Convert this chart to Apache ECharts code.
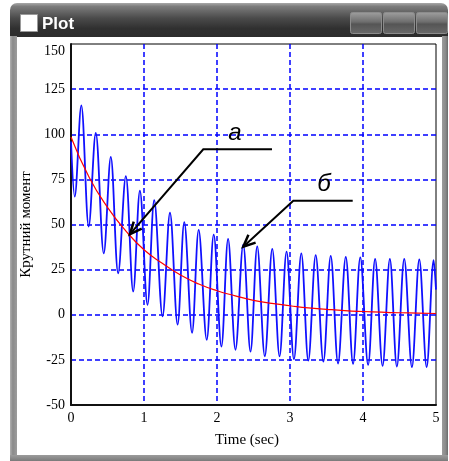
<!DOCTYPE html>
<html>
<head>
<meta charset="utf-8">
<script src="https://cdn.jsdelivr.net/npm/echarts@6/dist/echarts.min.js"></script>
<style>
html,body{margin:0;padding:0;background:#fff;}
#chart{width:449px;height:461px;}
</style>
</head>
<body>
<div id="chart"></div>
<script>
// ---- data ----
const windowTitle = 'Plot';
const xName = 'Time (sec)';
const yName = 'Крутний момент';
const xTicks = [0, 1, 2, 3, 4, 5];
const yTicks = [-50, -25, 0, 25, 50, 75, 100, 125, 150];

// blue oscillating torque: times (s) of start, alternating troughs/peaks, end
const blueT = [0, 0.051, 0.141, 0.243, 0.339, 0.449, 0.545, 0.646, 0.751, 0.852,
  0.944, 1.048, 1.140, 1.254, 1.356, 1.460, 1.552, 1.658, 1.749, 1.859,
  1.955, 2.060, 2.152, 2.253, 2.359, 2.459, 2.551, 2.655, 2.757, 2.857,
  2.953, 3.054, 3.155, 3.251, 3.352, 3.457, 3.558, 3.658, 3.764, 3.864,
  3.963, 4.070, 4.166, 4.268, 4.368, 4.464, 4.565, 4.670, 4.771, 4.872,
  4.968, 5.0];
const blueV = [96, 65.4, 116, 48.8, 100.7, 34, 87.5, 23, 76.8, 12.9,
  68.7, 5.5, 63.5, -0.9, 56.5, -5.5, 51.3, -10, 47, -13.9,
  44.4, -17.6, 42, -19.4, 38.9, -20.4, 37.9, -23, 36.5, -23,
  35, -24.6, 34, -25.4, 33, -26, 32.6, -27, 32, -27.2,
  31.8, -27.8, 30.9, -28.3, 30.9, -28.7, 30.9, -29, 30.6, -29,
  30.2, 13.9];

// red mean torque
const redT = [0, 0.25, 0.5, 0.75, 1.0, 1.25, 1.5, 1.75, 2.0, 2.25, 2.5,
  2.75, 3.0, 3.25, 3.5, 3.75, 4.0, 4.25, 4.5, 4.75, 5.0];
const redV = [98.5, 76, 59.5, 46.5, 36, 28.5, 22, 17, 13.3, 10.5, 8,
  6.3, 5, 3.8, 3, 2.3, 1.8, 1.4, 1.1, 0.9, 0.7];

// annotations (data coordinates)
const annLabels = ['а', 'б'];
const annTip  = [[0.808, 44.7], [2.360, 37.7]];
const annKnee = [[1.812, 91.7], [3.045, 63.2]];
const annEnd  = [[2.753, 91.7], [3.859, 63.2]];
const annText = [[2.247, 100.7], [3.466, 72.4]];

// ---- chart ----
const serif = 'Liberation Serif';
const blueData = blueT.map((t, i) => [t, blueV[i]]);
const redData = redT.map((t, i) => [t, redV[i]]);
const annData = annLabels.map((l, i) => [annTip[i][0], annTip[i][1], i]);

const chart = echarts.init(document.getElementById('chart'), null, {renderer: 'canvas'});

function frameGraphics() {
  const els = [];
  els.push({type: 'rect', shape: {x: 10, y: 3, width: 438, height: 34, r: [7, 7, 0, 0]},
    style: {fill: new echarts.graphic.LinearGradient(0, 0, 0, 1, [
      {offset: 0, color: '#a8a8a8'}, {offset: 0.1, color: '#7c7c7c'},
      {offset: 0.45, color: '#4a4a4a'}, {offset: 0.75, color: '#303030'}, {offset: 1, color: '#2c2c2c'}])},
    z: -10});
  els.push({type: 'rect', shape: {x: 10, y: 36, width: 7, height: 424},
    style: {fill: new echarts.graphic.LinearGradient(0, 0, 1, 0, [
      {offset: 0, color: '#b0b0b0'}, {offset: 0.4, color: '#8a8a8a'}, {offset: 1, color: '#9c9c9c'}])}, z: -10});
  els.push({type: 'rect', shape: {x: 442, y: 36, width: 6, height: 424},
    style: {fill: new echarts.graphic.LinearGradient(0, 0, 1, 0, [
      {offset: 0, color: '#9c9c9c'}, {offset: 0.6, color: '#8a8a8a'}, {offset: 1, color: '#6a6a6a'}])}, z: -10});
  els.push({type: 'rect', shape: {x: 10, y: 455, width: 438, height: 6},
    style: {fill: new echarts.graphic.LinearGradient(0, 0, 0, 1, [
      {offset: 0, color: '#9c9c9c'}, {offset: 1, color: '#7a7a7a'}])}, z: -10});
  els.push({type: 'rect', shape: {x: 20.5, y: 14.5, width: 17, height: 17},
    style: {fill: '#ffffff', stroke: '#9a9a9a', lineWidth: 1}, z: -9});
  els.push({type: 'text', style: {x: 42, y: 24, text: windowTitle, fill: '#ffffff',
    font: 'bold 17px "Liberation Sans", Arial, sans-serif', verticalAlign: 'middle', align: 'left'}, z: -9});
  [[350, 31], [383, 31], [416, 31]].forEach(b => {
    els.push({type: 'rect', shape: {x: b[0] + 0.5, y: 12.5, width: b[1], height: 21, r: 2},
      style: {fill: new echarts.graphic.LinearGradient(0, 0, 0, 1, [
        {offset: 0, color: '#a0a0a0'}, {offset: 0.45, color: '#6e6e6e'},
        {offset: 0.55, color: '#555555'}, {offset: 1, color: '#6a6a6a'}]),
        stroke: '#8c8c8c', lineWidth: 1}, z: -9});
  });
  return els;
}

const option = {
  animation: false,
  backgroundColor: 'transparent',
  graphic: {elements: frameGraphics()},
  grid: {left: 71, top: 44, width: 365, height: 361, show: true,
    backgroundColor: '#ffffff', borderColor: '#000000', borderWidth: 1},
  xAxis: {
    type: 'value', min: xTicks[0], max: xTicks[xTicks.length - 1], interval: 1,
    name: xName, nameLocation: 'middle', nameGap: 28,
    nameTextStyle: {fontFamily: serif, fontSize: 15, color: '#000', padding: [0, 13, 0, 0]},
    axisLine: {show: true, onZero: false, lineStyle: {color: '#111', width: 2}},
    axisTick: {show: false},
    axisLabel: {fontFamily: serif, fontSize: 14, color: '#000', margin: 6},
    splitLine: {show: true, showMinLine: false, showMaxLine: false,
      lineStyle: {color: '#0000ff', width: 1.5, type: [5, 3]}}
  },
  yAxis: {
    type: 'value', min: yTicks[0], max: yTicks[yTicks.length - 1], interval: 25,
    name: yName, nameLocation: 'middle', nameGap: 34,
    nameTextStyle: {fontFamily: serif, fontSize: 15, color: '#000'},
    axisLine: {show: true, onZero: false, lineStyle: {color: '#111', width: 2}},
    axisTick: {show: false},
    axisLabel: {fontFamily: serif, fontSize: 14, color: '#000', margin: 6,
      verticalAlignMaxLabel: 'top'},
    splitLine: {show: true, showMinLine: false, showMaxLine: false,
      lineStyle: {color: '#0000ff', width: 1.5, type: [5, 3]}}
  },
  series: [
    {type: 'line', data: blueData, smooth: 0.35, showSymbol: false, z: 3,
      lineStyle: {color: '#1010ff', width: 1.8}},
    {type: 'line', data: redData, smooth: true, showSymbol: false, z: 4,
      lineStyle: {color: '#ff0000', width: 1.2}},
    {type: 'custom', data: annData, clip: false, z: 6,
      renderItem: function (params, api) {
        const i = api.value(2);
        const tip = api.coord(annTip[i]);
        const knee = api.coord(annKnee[i]);
        const end = api.coord(annEnd[i]);
        const txt = api.coord(annText[i]);
        const ang = Math.atan2(knee[1] - tip[1], knee[0] - tip[0]);
        const L = 13, sp = 0.42;
        const h1 = [tip[0] + L * Math.cos(ang + sp), tip[1] + L * Math.sin(ang + sp)];
        const h2 = [tip[0] + L * Math.cos(ang - sp), tip[1] + L * Math.sin(ang - sp)];
        const ls = {stroke: '#000', lineWidth: 2, fill: null};
        return {type: 'group', children: [
          {type: 'polyline', shape: {points: [tip, knee, end]}, style: ls},
          {type: 'polyline', shape: {points: [h1, tip, h2]}, style: {stroke: '#000', lineWidth: 2.5, fill: null}},
          {type: 'text', style: {x: txt[0], y: txt[1], text: annLabels[i], fill: '#000',
            font: 'italic 24px "Liberation Sans", Arial, sans-serif', align: 'center', verticalAlign: 'middle'}}
        ]};
      }}
  ]
};
chart.setOption(option);
</script>
</body>
</html>
